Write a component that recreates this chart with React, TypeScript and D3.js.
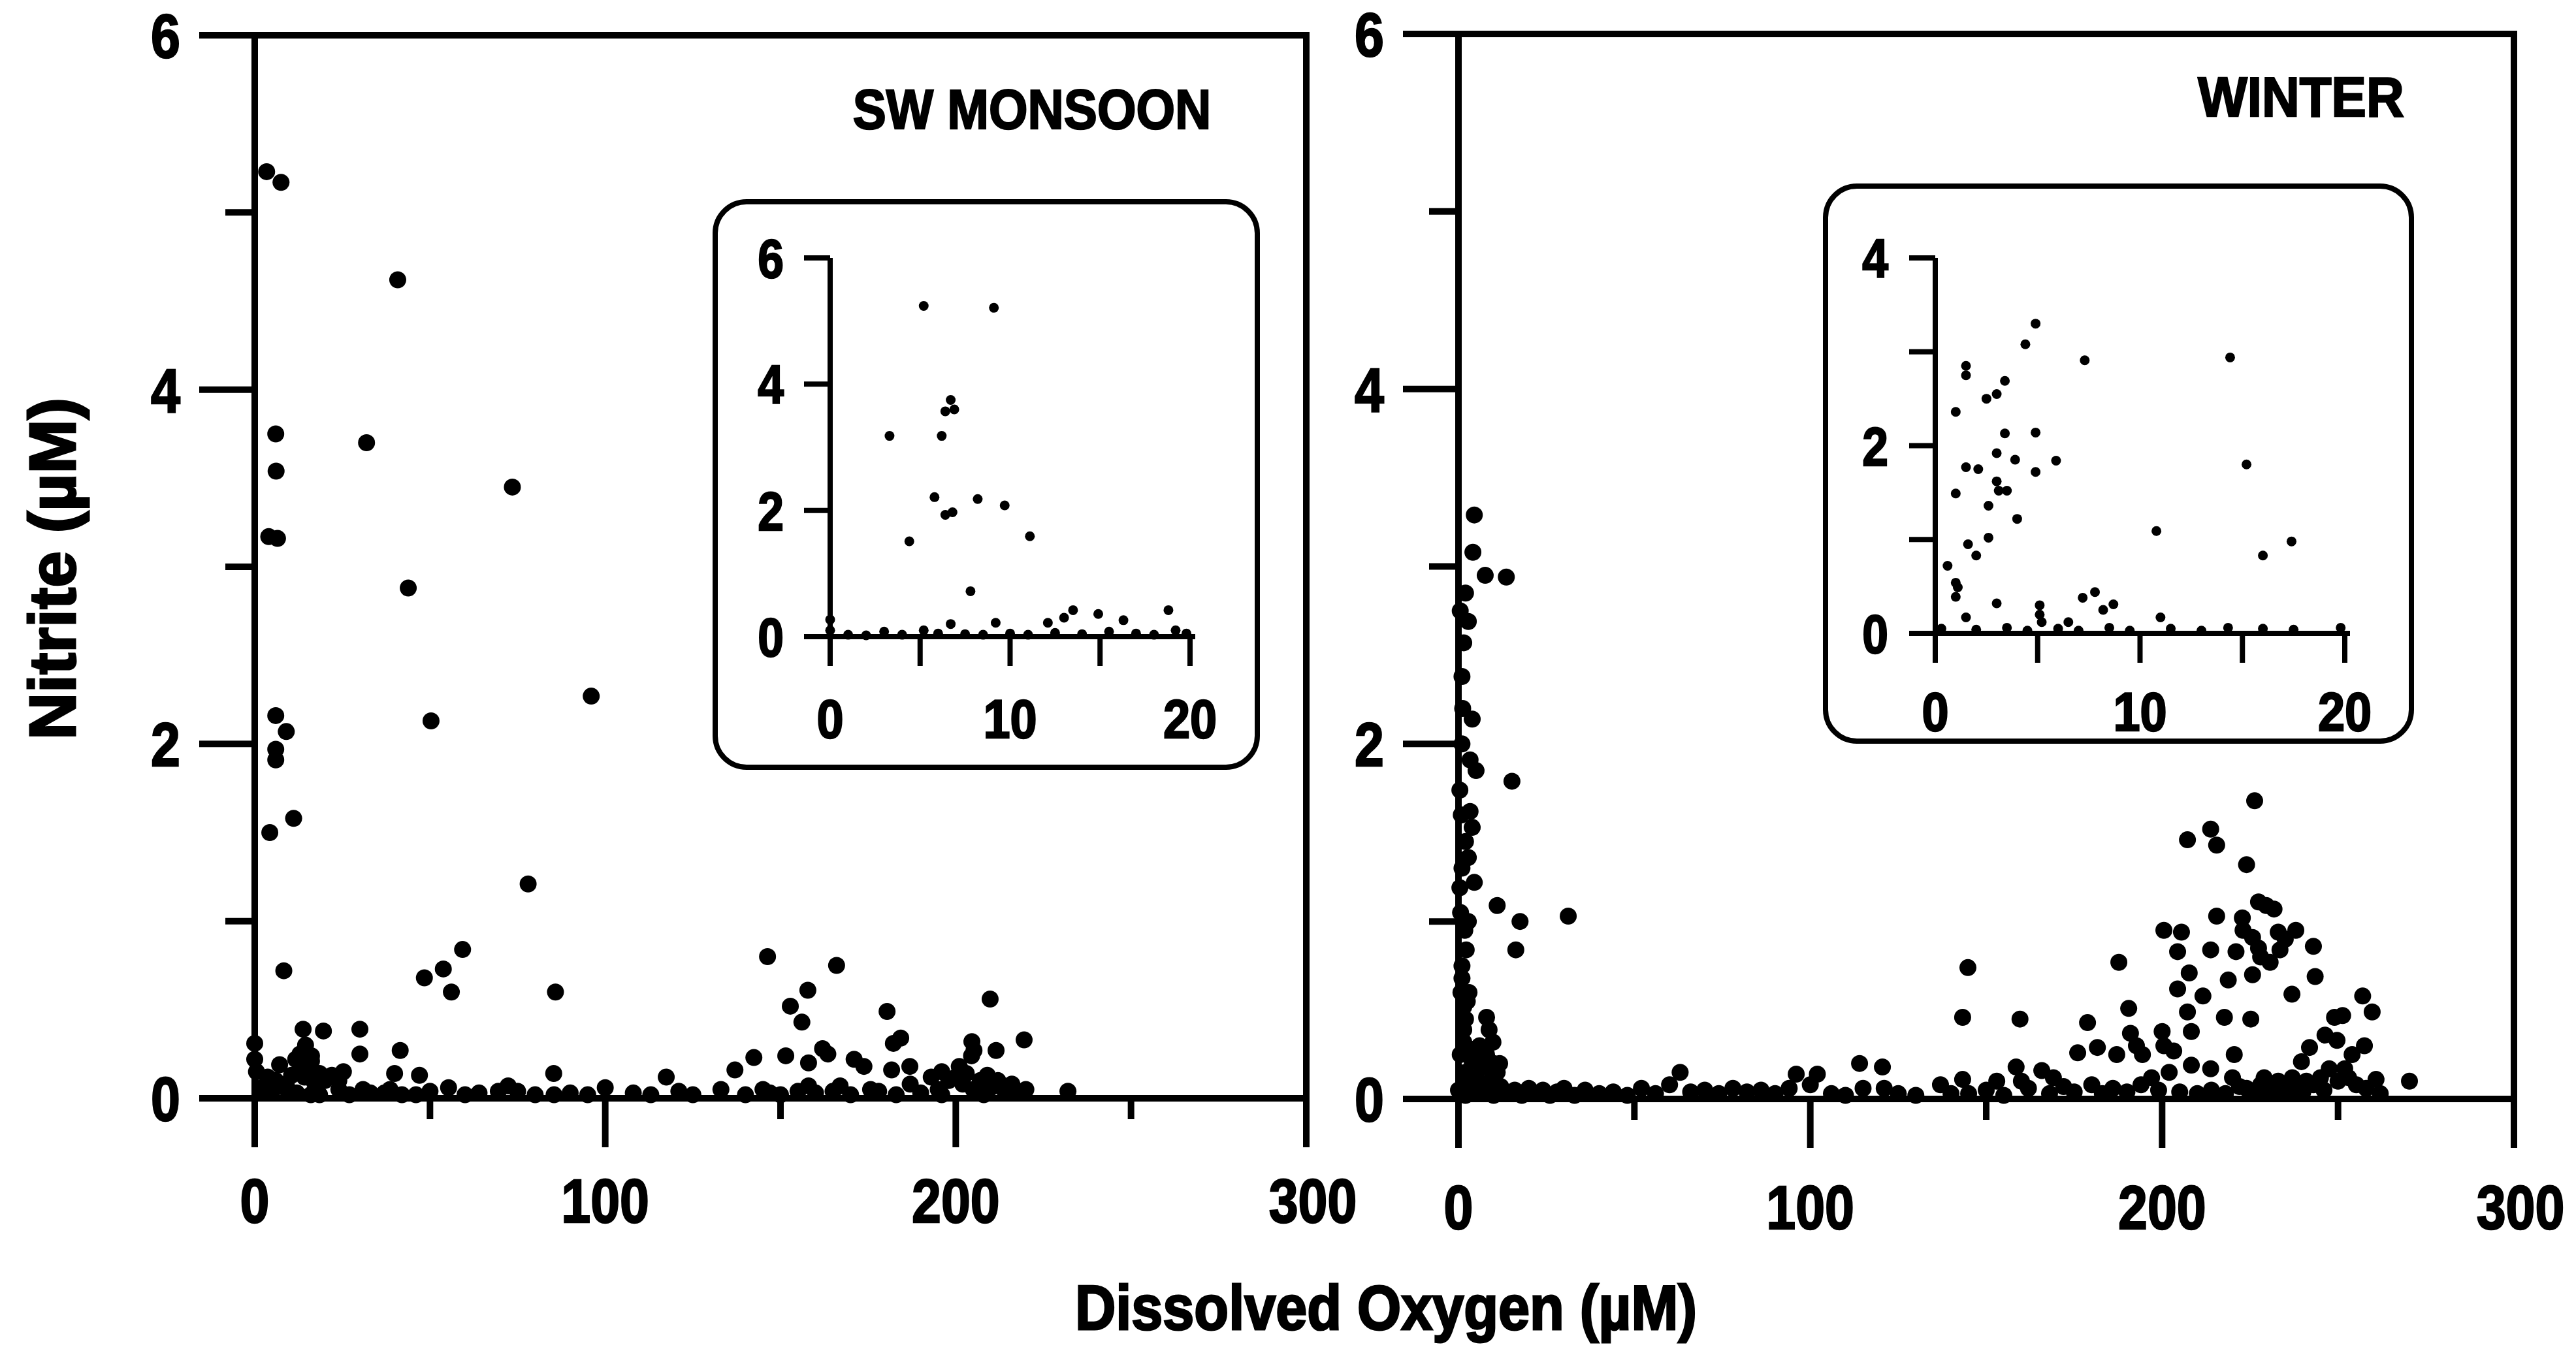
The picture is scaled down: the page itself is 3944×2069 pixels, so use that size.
import React from 'react';
import * as d3 from 'd3';

// SW monsoon, main panel: [dissolved oxygen µM, nitrite µM]
const swPoints: [number, number][] = [
  [3.4, 5.23], [7.5, 5.17], [40.8, 4.62], [6.0, 3.75], [31.9, 3.7], [6.1, 3.54], [73.5, 3.45],
  [4.0, 3.17], [6.5, 3.16], [43.8, 2.88], [96, 2.27], [50.3, 2.13], [6, 2.16], [9, 2.07],
  [6, 1.97], [6, 1.91], [11.1, 1.58], [4.3, 1.5], [78, 1.21], [8.3, 0.72], [59.3, 0.84],
  [53.8, 0.73], [48.4, 0.68], [56.1, 0.6], [85.8, 0.6],
  [30, 0.39], [13.8, 0.39], [19.6, 0.38], [30, 0.25], [41.5, 0.27], [0, 0.31], [0, 0.22],
  [16.2, 0.24], [7.1, 0.19], [12.9, 0.25], [11.7, 0.22], [16.2, 0.21], [3.7, 0.12], [25.3, 0.15],
  [39.9, 0.14], [47, 0.13], [85.3, 0.14], [117.4, 0.12], [14.2, 0.12], [17, 0.09], [10.5, 0.13],
  [20, 0.1], [22, 0.13], [0.5, 0.15], [2, 0.06], [14.5, 0.3], [15.5, 0.18], [13, 0.16],
  [9, 0.08], [6, 0.1], [18.5, 0.14], [24, 0.1],
  [37, 0.03], [55.3, 0.06], [72.3, 0.07], [100, 0.06], [121, 0.04], [85.4, 0.02], [42, 0.02],
  [24, 0.05], [9.2, 0.05], [5, 0.04], [16, 0.02], [18.5, 0.02], [30.9, 0.05], [38.6, 0.05],
  [64, 0.03], [69.5, 0.04], [75, 0.04], [12, 0.03], [27, 0.02], [33, 0.03], [46, 0.02],
  [50, 0.04], [60, 0.02], [80, 0.02], [90, 0.03], [95, 0.02], [108, 0.03], [113, 0.02],
  [146.3, 0.8], [166, 0.75], [157.8, 0.61], [152.8, 0.52], [156.1, 0.43], [180.4, 0.49],
  [209.8, 0.56], [184.3, 0.34], [182.2, 0.31], [204.6, 0.32], [205.2, 0.27], [204.5, 0.24],
  [219.5, 0.33], [211.5, 0.27], [162, 0.28], [163.5, 0.25], [142.4, 0.23], [137, 0.16],
  [151.5, 0.24], [158, 0.2], [171, 0.22], [173.8, 0.18], [181.7, 0.16], [186.9, 0.18],
  [133, 0.05], [145, 0.05], [158, 0.07], [167, 0.07], [175.7, 0.05], [232, 0.04],
  [147, 0.03], [150, 0.02], [155, 0.04], [160, 0.03], [165, 0.04], [170, 0.02], [178, 0.04],
  [183, 0.02], [187, 0.08], [190, 0.03], [193, 0.12], [195, 0.05], [196, 0.15], [198, 0.1],
  [200, 0.12], [201, 0.18], [202, 0.08], [203, 0.14], [205, 0.05], [207, 0.1], [209, 0.13],
  [210, 0.06], [212, 0.1], [214, 0.04], [216, 0.08], [218, 0.03], [220, 0.05], [208, 0.02],
  [196, 0.02], [125, 0.02], [140, 0.02],
];

// Winter, main panel: [dissolved oxygen µM, nitrite µM]
const winterPoints: [number, number][] = [
  [4.5, 3.29], [4.1, 3.08], [7.6, 2.95], [13.6, 2.94], [2, 2.85], [2.8, 2.69], [1.5, 2.57],
  [0.5, 2.75], [1, 2.38], [1.2, 2.2], [3.9, 2.14], [1, 2.0], [3.3, 1.91], [5, 1.85], [0.4, 1.74],
  [15.2, 1.79], [3.3, 1.62], [0.8, 1.6], [3.9, 1.53], [2, 1.45], [2.8, 1.36], [1, 1.3],
  [4.5, 1.22], [0.4, 1.19], [11, 1.09], [31.2, 1.03], [17.5, 1.0], [2.8, 1.0], [0.6, 1.05],
  [1.8, 0.95], [16.3, 0.84], [2.2, 0.84], [1, 0.75], [1, 0.68], [3, 0.6], [0.7, 0.6],
  [2.5, 0.55], [1.5, 0.52], [8, 0.46], [2, 0.45], [8.7, 0.39], [1.5, 0.39], [1.5, 0.32],
  [9.8, 0.32], [6, 0.3], [11.7, 0.2], [3.9, 0.21], [11, 0.15], [0.5, 0.25], [2, 0.15],
  [5, 0.12], [7, 0.18], [9, 0.1], [3, 0.1], [6, 0.2], [4, 0.28], [8, 0.25], [10, 0.2],
  [0, 0.05], [2, 0.02], [4, 0.08], [6, 0.03], [8, 0.06], [10, 0.02], [12, 0.07], [14, 0.03],
  [16, 0.05], [18, 0.02], [20, 0.06], [22, 0.03], [24, 0.05], [26, 0.02], [28, 0.04], [30, 0.06],
  [33, 0.02], [36, 0.05], [40, 0.03], [44, 0.04], [48, 0.02], [52, 0.06], [56, 0.03], [60, 0.08],
  [63, 0.15], [66, 0.04], [70, 0.05], [74, 0.03], [78, 0.06], [82, 0.04], [86, 0.05], [90, 0.03],
  [94, 0.06], [96, 0.14], [100, 0.08], [102, 0.14], [106, 0.03], [110, 0.02], [114, 0.2],
  [115, 0.06], [120.5, 0.18], [121, 0.06], [125, 0.03], [130, 0.02], [137, 0.08], [140, 0.03],
  [144.8, 0.74], [143.3, 0.46], [143.3, 0.11], [159.6, 0.45], [178.8, 0.43], [187.7, 0.77],
  [190.5, 0.51], [191, 0.37], [192.7, 0.3], [194.4, 0.25], [200, 0.38], [200.5, 0.3],
  [176, 0.26], [181.6, 0.29], [187.1, 0.25], [203.3, 0.27], [208.3, 0.19], [213.8, 0.17],
  [220.5, 0.25], [241.9, 0.29], [246.3, 0.36], [249.7, 0.33], [254, 0.25], [257.5, 0.3],
  [239.6, 0.21], [247.5, 0.17], [251.9, 0.17], [255.2, 0.08], [260.8, 0.11], [270.3, 0.1],
  [158.5, 0.18], [165.8, 0.16], [169.1, 0.12], [153, 0.1], [160, 0.1],
  [226.3, 1.68], [207.2, 1.46], [213.8, 1.52], [215.5, 1.43], [224, 1.32], [229.6, 1.09],
  [227.4, 1.11], [231.8, 1.07], [215.5, 1.03], [222.8, 1.02], [200.5, 0.95], [205.5, 0.94],
  [238, 0.95], [243, 0.86], [213.8, 0.84], [204.4, 0.83], [225.7, 0.91], [227.4, 0.85],
  [221, 0.83], [233, 0.94], [233.5, 0.84], [230.7, 0.77], [225.7, 0.7], [207.7, 0.71],
  [243.5, 0.69], [218.8, 0.67], [204.4, 0.62], [211.6, 0.58], [236.9, 0.59], [207.2, 0.49],
  [217.7, 0.46], [225.2, 0.45], [257, 0.58], [259.7, 0.49], [251.3, 0.47], [249, 0.46],
  [208.3, 0.38], [228, 0.8], [235, 0.9], [223, 0.95],
  [145, 0.03], [150, 0.05], [155, 0.02], [162, 0.06], [168, 0.03], [172, 0.07], [175, 0.04],
  [180, 0.08], [183, 0.03], [186, 0.06], [190, 0.04], [194, 0.08], [197, 0.12], [199, 0.05],
  [202, 0.15], [205, 0.04], [210, 0.03], [214, 0.05], [218, 0.03], [220, 0.12], [222, 0.07],
  [224, 0.06], [226, 0.03], [228, 0.08], [230, 0.05], [232, 0.04], [234, 0.07], [236, 0.03],
  [238, 0.06], [240, 0.04], [243, 0.08], [246, 0.05], [250, 0.1], [253, 0.12], [258, 0.06],
  [262, 0.03], [229, 0.12], [233, 0.1], [237, 0.12], [241, 0.1], [245, 0.12],
];

// insets, low-oxygen range 0-20 µM
const swInsetPoints: [number, number][] = [
  [5.2, 5.24], [9.1, 5.21], [6.7, 3.75], [6.4, 3.57], [6.9, 3.6], [3.3, 3.18], [6.2, 3.18],
  [5.8, 2.21], [8.2, 2.18], [9.7, 2.08], [6.4, 1.93], [6.8, 1.97], [4.4, 1.51], [11.1, 1.59],
  [7.8, 0.72], [0, 0.27], [0, 0.1], [3.0, 0.08], [5.2, 0.1], [6.7, 0.2], [9.2, 0.22],
  [12.1, 0.22], [13.0, 0.3], [13.5, 0.42], [14.9, 0.36], [16.3, 0.26], [18.8, 0.42], [19.2, 0.1],
  [1, 0.03], [2, 0.02], [4, 0.03], [6, 0.05], [7.5, 0.04], [8.5, 0.03], [10, 0.05], [11, 0.03],
  [12.5, 0.06], [14, 0.04], [15.5, 0.08], [17, 0.05], [18, 0.03], [19.8, 0.05],
];

const winterInsetPoints: [number, number][] = [
  [4.9, 3.3], [4.4, 3.08], [7.3, 2.91], [14.4, 2.94], [1.5, 2.75], [1.5, 2.85], [3.4, 2.69],
  [3.0, 2.55], [2.5, 2.5], [1.0, 2.36], [3.4, 2.13], [4.9, 2.14], [3.0, 1.92], [3.9, 1.85],
  [5.9, 1.84], [1.5, 1.77], [2.1, 1.75], [15.2, 1.8], [4.9, 1.72], [3.0, 1.62], [3.1, 1.52],
  [3.5, 1.52], [1.0, 1.49], [2.6, 1.36], [4.0, 1.22], [10.8, 1.09], [2.6, 1.02], [1.6, 0.95],
  [17.4, 0.98], [2.0, 0.83], [16.0, 0.83], [0.6, 0.72], [1.0, 0.54], [1.1, 0.49], [1.0, 0.39],
  [3.0, 0.32], [7.2, 0.38], [7.8, 0.44], [8.7, 0.31], [8.2, 0.25], [1.5, 0.17], [5.1, 0.3],
  [5.1, 0.2], [5.2, 0.12], [11.0, 0.17], [6.5, 0.12], [0.3, 0.05], [2, 0.04], [3.5, 0.06],
  [4.5, 0.03], [6, 0.05], [7, 0.03], [8.5, 0.06], [9.5, 0.03], [11.5, 0.05], [13, 0.03],
  [14.3, 0.06], [16, 0.05], [17.5, 0.04], [19.8, 0.06],
];

const mainXTicks = [0, 50, 100, 150, 200, 250, 300];
const mainXLabels = [0, 100, 200, 300];
const mainYTicks = [0, 1, 2, 3, 4, 5, 6];
const mainYLabels = [0, 2, 4, 6];
const insetXTicks = [0, 5, 10, 15, 20];
const insetXLabels = [0, 10, 20];
const swInsetYTicks = [0, 2, 4, 6];
const swInsetYLabels = [0, 2, 4, 6];
const winterInsetYTicks = [0, 1, 2, 3, 4];
const winterInsetYLabels = [0, 2, 4];

const FONT = '"Liberation Sans", Arial, Helvetica, sans-serif';

function Label({ x, y, text, size, sx = 1, anchor = 'middle', rotate = 0, heavy = 2.5 }: any) {
  return (
    <text
      transform={`translate(${x},${y}) rotate(${rotate}) scale(${sx},1)`}
      textAnchor={anchor}
      fontFamily={FONT}
      fontWeight="bold"
      fontSize={size}
      fill="#000"
      stroke="#000"
      strokeWidth={heavy}
    >
      {text}
    </text>
  );
}

function MainPanel({ x0, x1, y0, y1, points, title, titleX, titleY, titleSx, xLabelY }: any) {
  const x = d3.scaleLinear().domain([0, 300]).range([x0, x1]);
  const y = d3.scaleLinear().domain([0, 6]).range([y0, y1]);
  const sw = 10;
  return (
    <g>
      <rect x={x0} y={y1} width={x1 - x0} height={y0 - y1} fill="none" stroke="#000" strokeWidth={sw} />
      {mainYTicks.map(t => (
        <line key={'yt' + t} x1={x0} x2={x0 - (mainYLabels.includes(t) ? 85 : 45)}
          y1={y(t)} y2={y(t)} stroke="#000" strokeWidth={sw} />
      ))}
      {mainXTicks.map(t => (
        <line key={'xt' + t} x1={x(t)} x2={x(t)} y1={y0}
          y2={y0 + (mainXLabels.includes(t) ? 75 : 32)} stroke="#000" strokeWidth={sw} />
      ))}
      {mainYLabels.map(t => (
        <Label key={'yl' + t} x={x0 - 114} y={y(t) + 34} text={t} size={95} sx={0.85} anchor="end" />
      ))}
      {mainXLabels.map(t => (
        <Label key={'xl' + t} x={x(t) + (t === 300 ? 10 : 0)} y={xLabelY} text={t} size={95} sx={0.85} />
      ))}
      {points.map((d: [number, number], i: number) => (
        <circle key={i} cx={x(d[0])} cy={y(d[1])} r={13} fill="#000" />
      ))}
      <Label x={titleX} y={titleY} text={title} size={86} sx={titleSx} />
    </g>
  );
}

function Inset({ box, xr, yr, ymax, yTicks, yLabels, points, yLabelX, xLabelY }: any) {
  const x = d3.scaleLinear().domain([0, 20]).range(xr);
  const y = d3.scaleLinear().domain([0, ymax]).range(yr);
  const sw = 8;
  return (
    <g>
      <rect x={box[0]} y={box[1]} width={box[2]} height={box[3]} rx={48} ry={48}
        fill="#fff" stroke="#000" strokeWidth={sw} />
      <line x1={x(0)} x2={x(0)} y1={y(ymax)} y2={y(0) + 45} stroke="#000" strokeWidth={sw} />
      <line x1={x(0) - 40} x2={x(20) + 8} y1={y(0)} y2={y(0)} stroke="#000" strokeWidth={sw} />
      {yTicks.map((t: number) => (
        <line key={'yt' + t} x1={x(0)} x2={x(0) - 40} y1={y(t)} y2={y(t)} stroke="#000" strokeWidth={sw} />
      ))}
      {insetXTicks.map(t => (
        <line key={'xt' + t} x1={x(t)} x2={x(t)} y1={y(0)} y2={y(0) + 45} stroke="#000" strokeWidth={sw} />
      ))}
      {yLabels.map((t: number) => (
        <Label key={'yl' + t} x={yLabelX} y={y(t) + 30} text={t} size={84} sx={0.85} />
      ))}
      {insetXLabels.map(t => (
        <Label key={'xl' + t} x={x(t)} y={xLabelY} text={t} size={84} sx={0.88} />
      ))}
      {points.map((d: [number, number], i: number) => (
        <circle key={i} cx={x(d[0])} cy={y(d[1])} r={7.5} fill="#000" />
      ))}
    </g>
  );
}

export default function App() {
  return (
    <svg width={3944} height={2069} viewBox="0 0 3944 2069"
      style={{ position: 'absolute', left: 0, top: 0, background: '#fff' }}>
      <rect x={0} y={0} width={3944} height={2069} fill="#fff" />
      <MainPanel x0={390} x1={2000} y0={1682} y1={54} points={swPoints}
        title="SW MONSOON" titleX={1580} titleY={197} titleSx={0.89} xLabelY={1872} />
      <MainPanel x0={2233} x1={3849} y0={1683} y1={52} points={winterPoints}
        title="WINTER" titleX={3523} titleY={178} titleSx={0.93} xLabelY={1882} />
      <Inset box={[1095, 309, 830, 866]} xr={[1271, 1822]} yr={[975, 395]} ymax={6}
        yTicks={swInsetYTicks} yLabels={swInsetYLabels} points={swInsetPoints}
        yLabelX={1180} xLabelY={1130} />
      <Inset box={[2795, 285, 897, 850]} xr={[2963, 3590]} yr={[970, 395]} ymax={4}
        yTicks={winterInsetYTicks} yLabels={winterInsetYLabels} points={winterInsetPoints}
        yLabelX={2871} xLabelY={1119} />
      <Label x={115} y={871} text="Nitrite (µM)" size={100} rotate={-90} sx={1.0} heavy={3} />
      <Label x={2122} y={2036} text="Dissolved Oxygen (µM)" size={96} sx={0.9} heavy={3} />
    </svg>
  );
}
